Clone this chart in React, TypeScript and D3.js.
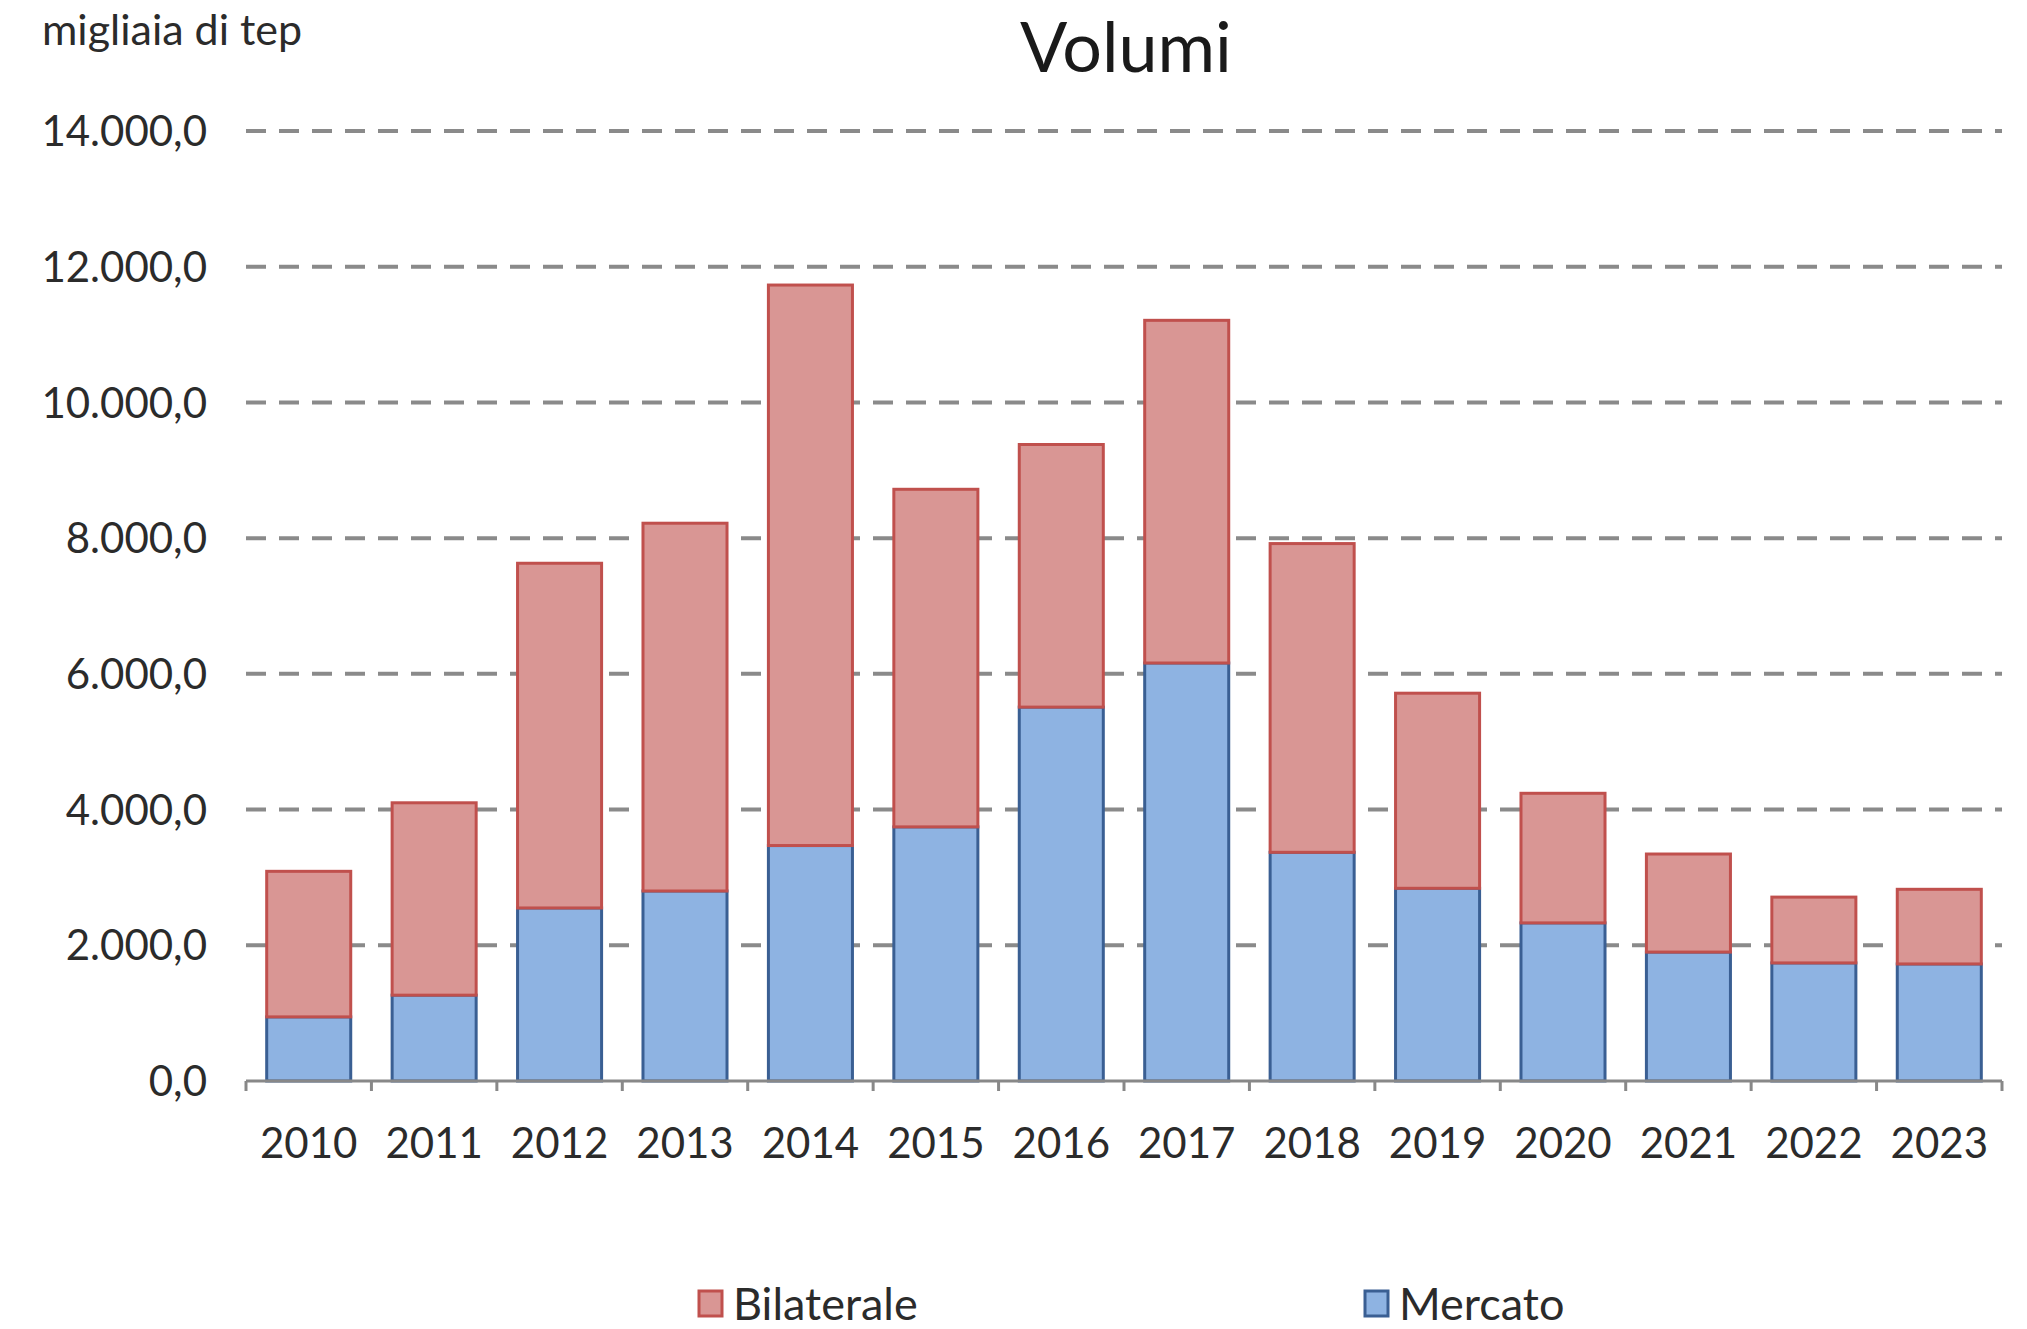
import React from "react";
import * as d3 from "d3";

// Yearly volumes, thousand toe
const years = ["2010", "2011", "2012", "2013", "2014", "2015", "2016", "2017", "2018", "2019", "2020", "2021", "2022", "2023"];
const mercato = [945, 1265, 2550, 2800, 3470, 3745, 5510, 6160, 3370, 2840, 2330, 1900, 1740, 1725];
const bilaterale = [2145, 2835, 5080, 5420, 8260, 4975, 3870, 5050, 4550, 2875, 1910, 1445, 970, 1100];
const yTicks = [0, 2000, 4000, 6000, 8000, 10000, 12000, 14000];
const seriesKeys = ["mercato", "bilaterale"] as const;
const seriesLabels = { bilaterale: "Bilaterale", mercato: "Mercato" };

const W = 2027;
const H = 1329;
const FONT = "Lato, 'Open Sans', sans-serif";

const colors = {
  bilaterale: { fill: "#D99694", stroke: "#C0504D" },
  mercato: { fill: "#8EB3E2", stroke: "#3A5F93" },
};

const fmt = (v: number) =>
  d3.format(",.1f")(v).replace(/,/g, "#").replace(".", ",").replace(/#/g, ".");

export default function App() {
  const rows = years.map((y, i) => ({ year: y, mercato: mercato[i], bilaterale: bilaterale[i] }));

  const x = d3.scaleBand<string>().domain(years).range([246, 2002]).paddingInner(0.33).paddingOuter(0.165);
  const y = d3.scaleLinear().domain([0, 14000]).range([1081, 131]);

  const stacked = d3.stack<any>().keys(seriesKeys as unknown as string[])(rows);

  const [x0, x1] = x.range();
  const step = x.step();
  const boundaries = d3.range(years.length + 1).map((i) => x0 + i * step);

  return (
    <div style={{ position: "absolute", left: 0, top: 0 }}>
      <svg width={W} height={H} style={{ display: "block", background: "#fff" }} fontFamily={FONT}>
        {/* title and unit */}
        <text x={1126} y={72} textAnchor="middle" fontSize={70} fill="#1a1a1a">
          Volumi
        </text>
        <text x={42} y={45} fontSize={43} fill="#2b2b2b">
          migliaia di tep
        </text>

        {/* horizontal dashed gridlines */}
        {yTicks
          .filter((t) => t > 0)
          .map((t) => (
            <line
              key={"g" + t}
              x1={x0}
              x2={x1}
              y1={y(t)}
              y2={y(t)}
              stroke="#8a8a8a"
              strokeWidth={4}
              strokeDasharray="20 13"
            />
          ))}

        {/* y tick labels */}
        {yTicks.map((t) => (
          <text
            key={"yl" + t}
            x={207}
            y={y(t)}
            dy="0.36em"
            textAnchor="end"
            fontSize={42}
            fill="#2b2b2b"
          >
            {fmt(t)}
          </text>
        ))}

        {/* stacked bars */}
        {stacked.map((s) => {
          const key = s.key as keyof typeof colors;
          return (
            <g key={key}>
              {s.map((d, i) => (
                <rect
                  key={key + i}
                  x={x(years[i])!}
                  y={y(d[1])}
                  width={x.bandwidth()}
                  height={y(d[0]) - y(d[1])}
                  fill={colors[key].fill}
                  stroke={colors[key].stroke}
                  strokeWidth={3}
                />
              ))}
            </g>
          );
        })}

        {/* x axis */}
        <line x1={x0} x2={x1} y1={y(0)} y2={y(0)} stroke="#888" strokeWidth={3} />
        {boundaries.map((b, i) => (
          <line key={"t" + i} x1={b} x2={b} y1={y(0)} y2={y(0) + 10} stroke="#888" strokeWidth={3} />
        ))}
        {years.map((yr) => (
          <text
            key={"xl" + yr}
            x={x(yr)! + x.bandwidth() / 2}
            y={1143}
            dy="0.36em"
            textAnchor="middle"
            fontSize={42}
            fill="#2b2b2b"
          >
            {yr}
          </text>
        ))}

        {/* legend */}
        {(["bilaterale", "mercato"] as const).map((k, i) => {
          const lx = i === 0 ? 699 : 1365;
          return (
            <g key={"lg" + k}>
              <rect
                x={lx}
                y={1291}
                width={23}
                height={25}
                fill={colors[k].fill}
                stroke={colors[k].stroke}
                strokeWidth={3}
              />
              <text x={lx + 34} y={1304} dy="0.36em" fontSize={45} fill="#2b2b2b">
                {seriesLabels[k]}
              </text>
            </g>
          );
        })}
      </svg>
    </div>
  );
}
